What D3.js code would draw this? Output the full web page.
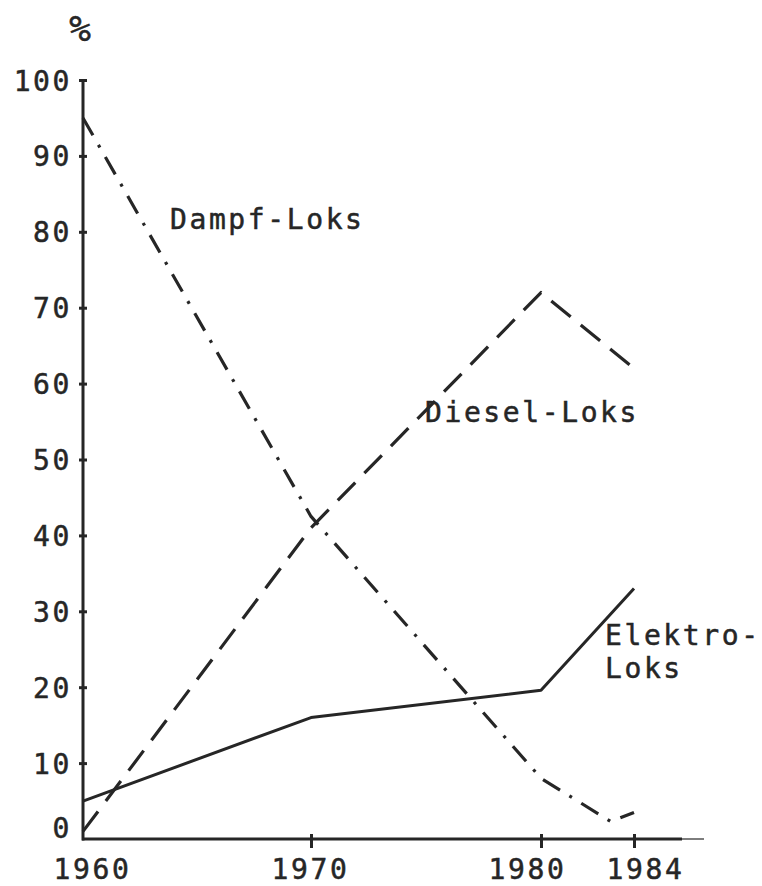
<!DOCTYPE html>
<html>
<head>
<meta charset="utf-8">
<script src="https://cdn.jsdelivr.net/npm/d3@7"></script>
<style>
  html, body { margin: 0; padding: 0; background: #fff; }
  svg { display: block; }
  text { font-family: "DejaVu Sans Mono", monospace; fill: #262626; stroke: #262626; stroke-width: 0.5px; }
</style>
</head>
<body>
<svg id="chart" width="762" height="886"></svg>
<script>
// ---- data ----
const years = [1960, 1970, 1980, 1984];
const yTicks = [0, 10, 20, 30, 40, 50, 60, 70, 80, 90, 100];
const dampfYears = [1960, 1970, 1980, 1983, 1984];
const dampfValues = [95, 42.5, 8, 2.3, 3.5];
const dieselYears = [1960, 1970, 1980, 1984];
const dieselValues = [1, 41, 72, 62];
const elektroYears = [1960, 1970, 1980, 1984];
const elektroValues = [5, 16, 19.6, 33];
const seriesLabels = ["Dampf-Loks", "Diesel-Loks", ["Elektro-", "Loks"]];
const unitLabel = "%";

// ---- layout ----
const ink = "#262626";
const svg = d3.select("#chart");
const x = d3.scaleLinear().domain(years).range([83, 311, 541, 634]);
const y = d3.scaleLinear().domain([0, 100]).range([839, 80]);
const fontSize = 28, spacing = 2.6;

const g = svg.append("g");

// y axis
const yAxis = d3.axisLeft(y).tickValues(yTicks).tickSize(0).tickPadding(0).tickFormat(d3.format("d"));
const ya = g.append("g").attr("transform", "translate(83,0)").call(yAxis);
ya.select(".domain").remove();
ya.selectAll(".tick text")
  .attr("x", -11)
  .attr("dy", d => d === 0 ? "-2" : "10")
  .attr("font-size", fontSize)
  .attr("letter-spacing", spacing)
  .attr("fill", ink)
  .style("font-family", "'DejaVu Sans Mono', monospace")
  .attr("text-anchor", "end");
ya.selectAll(".tick").filter(d => d > 0).append("line")
  .attr("x1", -4).attr("x2", 4).attr("stroke", ink).attr("stroke-width", 3);
g.append("line")
  .attr("x1", 83).attr("x2", 83).attr("y1", y(100)).attr("y2", y(0) + 1.5)
  .attr("stroke", ink).attr("stroke-width", 3);

// x axis
const xAxis = d3.axisBottom(x).tickValues(years).tickSize(0).tickPadding(0).tickFormat(d3.format("d"));
const xa = g.append("g").attr("transform", `translate(0,${y(0)})`).call(xAxis);
xa.select(".domain").remove();
const xLabelShift = {1960: 9, 1970: -1, 1980: -14, 1984: 11};
xa.selectAll(".tick text")
  .attr("x", d => xLabelShift[d])
  .attr("y", 40)
  .attr("dy", 0)
  .attr("font-size", fontSize)
  .attr("letter-spacing", spacing)
  .attr("fill", ink)
  .style("font-family", "'DejaVu Sans Mono', monospace")
  .attr("text-anchor", "middle");
xa.selectAll(".tick").filter(d => d > 1960).append("line")
  .attr("y1", -5).attr("y2", 9).attr("stroke", ink).attr("stroke-width", 3);
g.append("line")
  .attr("x1", 82).attr("x2", 682).attr("y1", y(0)).attr("y2", y(0))
  .attr("stroke", ink).attr("stroke-width", 3);
g.append("line")
  .attr("x1", 682).attr("x2", 704).attr("y1", y(0)).attr("y2", y(0))
  .attr("stroke", ink).attr("stroke-width", 1.2);

// unit label
g.append("text").attr("x", 80).attr("y", 41).attr("text-anchor", "middle")
  .attr("font-size", 36).attr("fill", ink).text(unitLabel);

// lines
const line = d3.line().x(d => x(d[0])).y(d => y(d[1]));
const mk = (ys, vs) => ys.map((yr, i) => [yr, vs[i]]);

g.append("path").datum(mk(dampfYears, dampfValues)).attr("d", line)
  .attr("fill", "none").attr("stroke", ink).attr("stroke-width", 3.2)
  .attr("stroke-dasharray", "20,11,3,11").attr("stroke-linejoin", "round");
g.append("path").datum(mk(dieselYears, dieselValues)).attr("d", line)
  .attr("fill", "none").attr("stroke", ink).attr("stroke-width", 3.2)
  .attr("stroke-dasharray", "25,13").attr("stroke-linejoin", "round");
g.append("path").datum(mk(elektroYears, elektroValues)).attr("d", line)
  .attr("fill", "none").attr("stroke", ink).attr("stroke-width", 3)
  .attr("stroke-linejoin", "round");

// series labels
const lab = (t, lx, ly) => g.append("text").attr("x", lx).attr("y", ly)
  .attr("font-size", fontSize).attr("letter-spacing", spacing).attr("fill", ink).text(t);
lab(seriesLabels[0], 170, 229);
lab(seriesLabels[1], 425, 422);
lab(seriesLabels[2][0], 605, 645);
lab(seriesLabels[2][1], 605, 678);
</script>
</body>
</html>
